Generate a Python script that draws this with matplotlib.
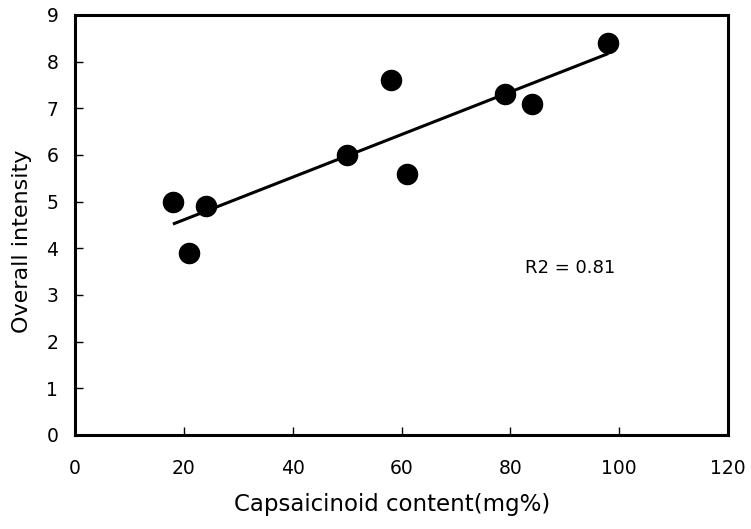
import numpy as np
import matplotlib
matplotlib.use("Agg")
import matplotlib.pyplot as plt

# capsaicinoid content (mg%) vs. overall pungency intensity
capsaicinoid = [18, 21, 24, 50, 58, 61, 79, 84, 98]
intensity = [5.0, 3.9, 4.9, 6.0, 7.6, 5.6, 7.3, 7.1, 8.4]
r2_label = "R2 = 0.81"

plt.rcParams['font.family'] = ['DejaVu Sans']

fig = plt.figure(figsize=(7.51, 5.29), dpi=100)
ax = fig.add_axes([75 / 751, 94 / 529, 653 / 751, 420 / 529])

x = np.array(capsaicinoid, dtype=float)
y = np.array(intensity, dtype=float)
slope, intercept = np.polyfit(x, y, 1)
xs = np.array([x.min(), x.max()])
ax.plot(xs, slope * xs + intercept, color='black', lw=2.2, solid_capstyle='butt')
ax.scatter(x, y, s=210, color='black', zorder=3)

ax.set_xlim(0, 120)
ax.set_ylim(0, 9)
ax.set_xticks(range(0, 121, 20))
ax.set_yticks(range(0, 10))
ax.tick_params(direction='in', length=6, width=1, labelsize=13.5, pad=17)
ax.tick_params(axis='y', pad=12)
for s in ax.spines.values():
    s.set_linewidth(2.2)

ax.set_xlabel("Capsaicinoid content(mg%)", fontsize=16.5)
ax.set_ylabel("Overall intensity", fontsize=16)
ax.xaxis.set_label_coords(0.486, -0.138)
ax.yaxis.set_label_coords(-0.066, 0.46)
ax.text(91, 3.58, r2_label, fontsize=13, ha='center', va='center')

fig.savefig("out.png", dpi=100)
